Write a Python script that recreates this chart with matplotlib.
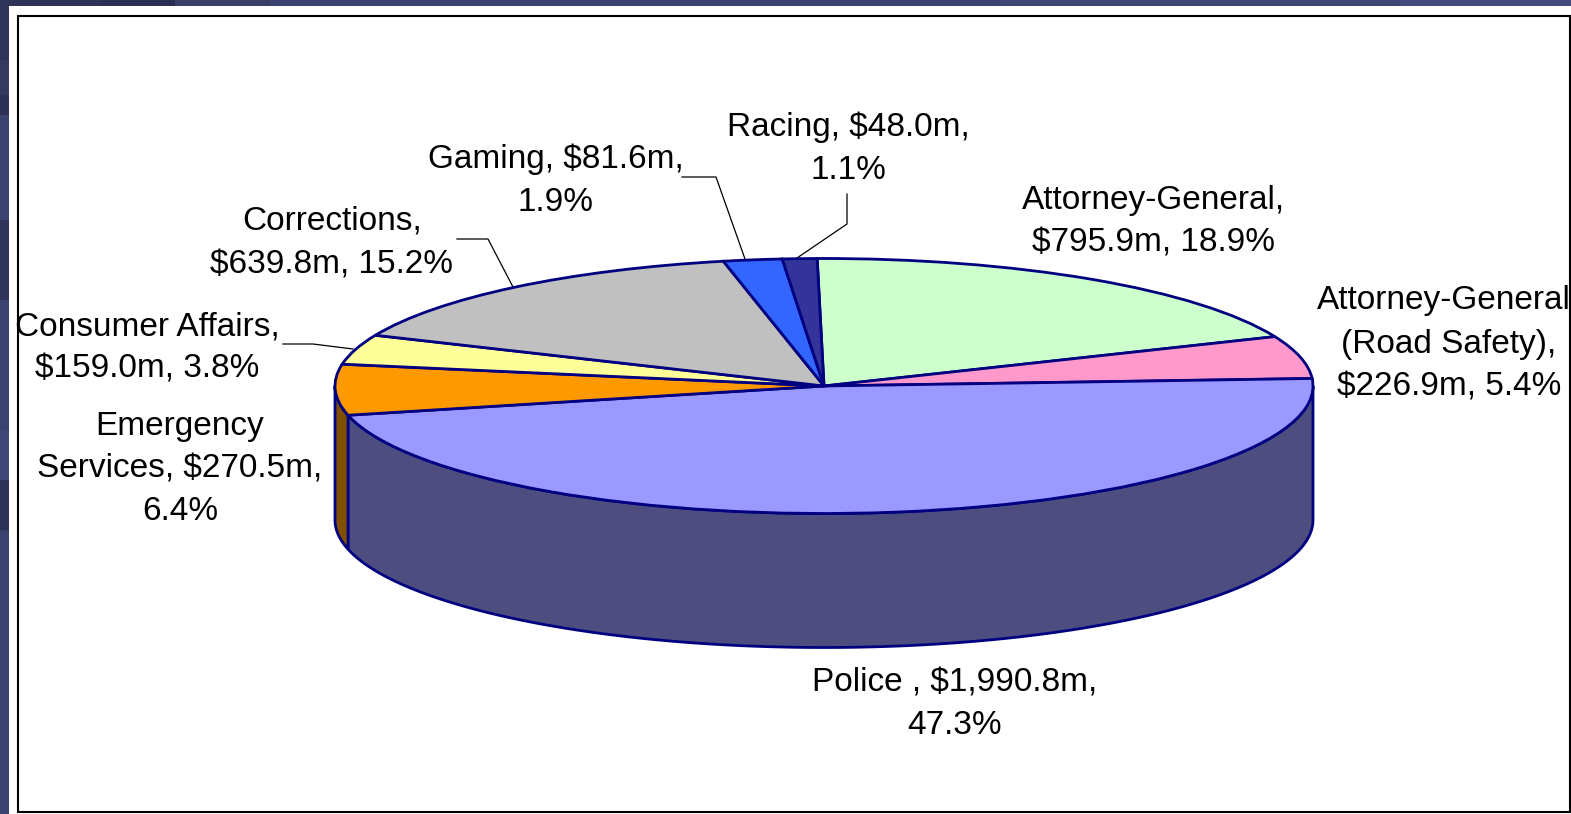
import matplotlib
matplotlib.use('Agg')
import matplotlib.pyplot as plt
from matplotlib.patches import Rectangle
import numpy as np

plt.rcParams['font.family'] = ['Liberation Sans', 'DejaVu Sans']

# $m, clockwise from the top
amounts = [795.9, 226.9, 1990.8, 270.5, 159.0, 639.8, 81.6, 48.0]
colors = ['#CCFFCC', '#FF99CC', '#9999FF', '#FF9900', '#FFFF99', '#C0C0C0', '#3366FF', '#333399']
side_colors = {2: '#4D4D80', 3: '#805000'}

labels = ['Racing, $48.0m,\n1.1%',
          'Gaming, $81.6m,\n1.9%',
          'Corrections,\n$639.8m, 15.2%',
          'Consumer Affairs,\n$159.0m, 3.8%',
          'Emergency\nServices, $270.5m,\n6.4%',
          'Attorney-General,\n$795.9m, 18.9%',
          'Attorney-General,\n(Road Safety),\n$226.9m, 5.4%',
          'Police , $1,990.8m,\n47.3%']
label_x = [848, 556, 332, 147, 180, 1154, 1449, 955]
label_y = [149, 181, 243, 348, 469, 222, 344, 704]

leaders = [([847, 847, 797], [194, 224, 258]),
           ([682, 716, 745], [177, 177, 259]),
           ([457, 488, 513], [239, 239, 287]),
           ([283, 313, 353], [344, 344, 349])]

W, H = 1571, 814
NAVY = '#000080'
START = -0.8
DEPTH = 134 / 127.5

fig = plt.figure(figsize=(W / 100, H / 100), dpi=100, facecolor='#363D69')
bg = fig.add_axes([0, 0, 1, 1])
bg.set_xlim(0, W)
bg.set_ylim(H, 0)
bg.axis('off')

# slide background stripes
for y0, y1, c in [(0, 60, '#2F3358'), (60, 95, '#343960'), (95, 115, '#2D3155'),
                  (115, 220, '#3A4270'), (220, 300, '#2F3458'), (300, 430, '#3A4270'),
                  (430, 480, '#3E4675'), (480, 530, '#2E3256'), (530, 814, '#3A4270')]:
    bg.add_patch(Rectangle((0, y0), 9, y1 - y0, fc=c, lw=0))
for x0, x1, c in [(0, 100, '#2F3358'), (100, 175, '#2C2F52'), (175, 270, '#383E68'),
                  (270, 700, '#3A4270'), (700, 1000, '#3A4270'), (1000, 1400, '#3F4775'),
                  (1400, 1571, '#434A7D')]:
    bg.add_patch(Rectangle((x0, 0), x1 - x0, 6, fc=c, lw=0))

panel = Rectangle((9, 6), W - 9, H - 6, fc='white', lw=0)
bg.add_patch(panel)
bg.add_patch(Rectangle((18.5, 15.5), 1551.5, 796.5, fc='none', ec='black', lw=1.5))

clip = Rectangle((9, 6), 1561, H - 6, transform=bg.transData)
for s, x, y in zip(labels, label_x, label_y):
    t = bg.text(x, y, s, ha='center', va='center', fontsize=24, color='black',
                linespacing=1.5, multialignment='center')
    t.set_clip_path(clip)
    t.set_clip_on(True)
for xs, ys in leaders:
    bg.plot(xs, ys, color='black', lw=0.9)

# the pie, squashed: axes span exactly the top ellipse
ax = fig.add_axes([(824 - 489) / W, 1 - (386 + 127.5) / H, 2 * 489 / W, 2 * 127.5 / H])
ax.pie(amounts, colors=colors, startangle=90 - START, counterclock=False,
       wedgeprops={'edgecolor': NAVY, 'linewidth': 2, 'clip_on': False, 'zorder': 3})
ax.set_aspect('auto')
ax.set_xlim(-1, 1)
ax.set_ylim(-1, 1)

# side wall under the wedges that face the viewer
edges = START + np.concatenate([[0], np.cumsum(amounts)]) / sum(amounts) * 360
for i, c in side_colors.items():
    a0 = max(edges[i], 90)
    a1 = min(edges[i + 1], 270)
    th = np.radians(np.linspace(a0, a1, 200))
    x = np.sin(th)
    y = np.cos(th)
    ax.fill(np.r_[x, x[::-1]], np.r_[y, y[::-1] - DEPTH], fc=c, ec=NAVY, lw=2,
            clip_on=False, zorder=1)

fig.savefig('out.png', dpi=100)
